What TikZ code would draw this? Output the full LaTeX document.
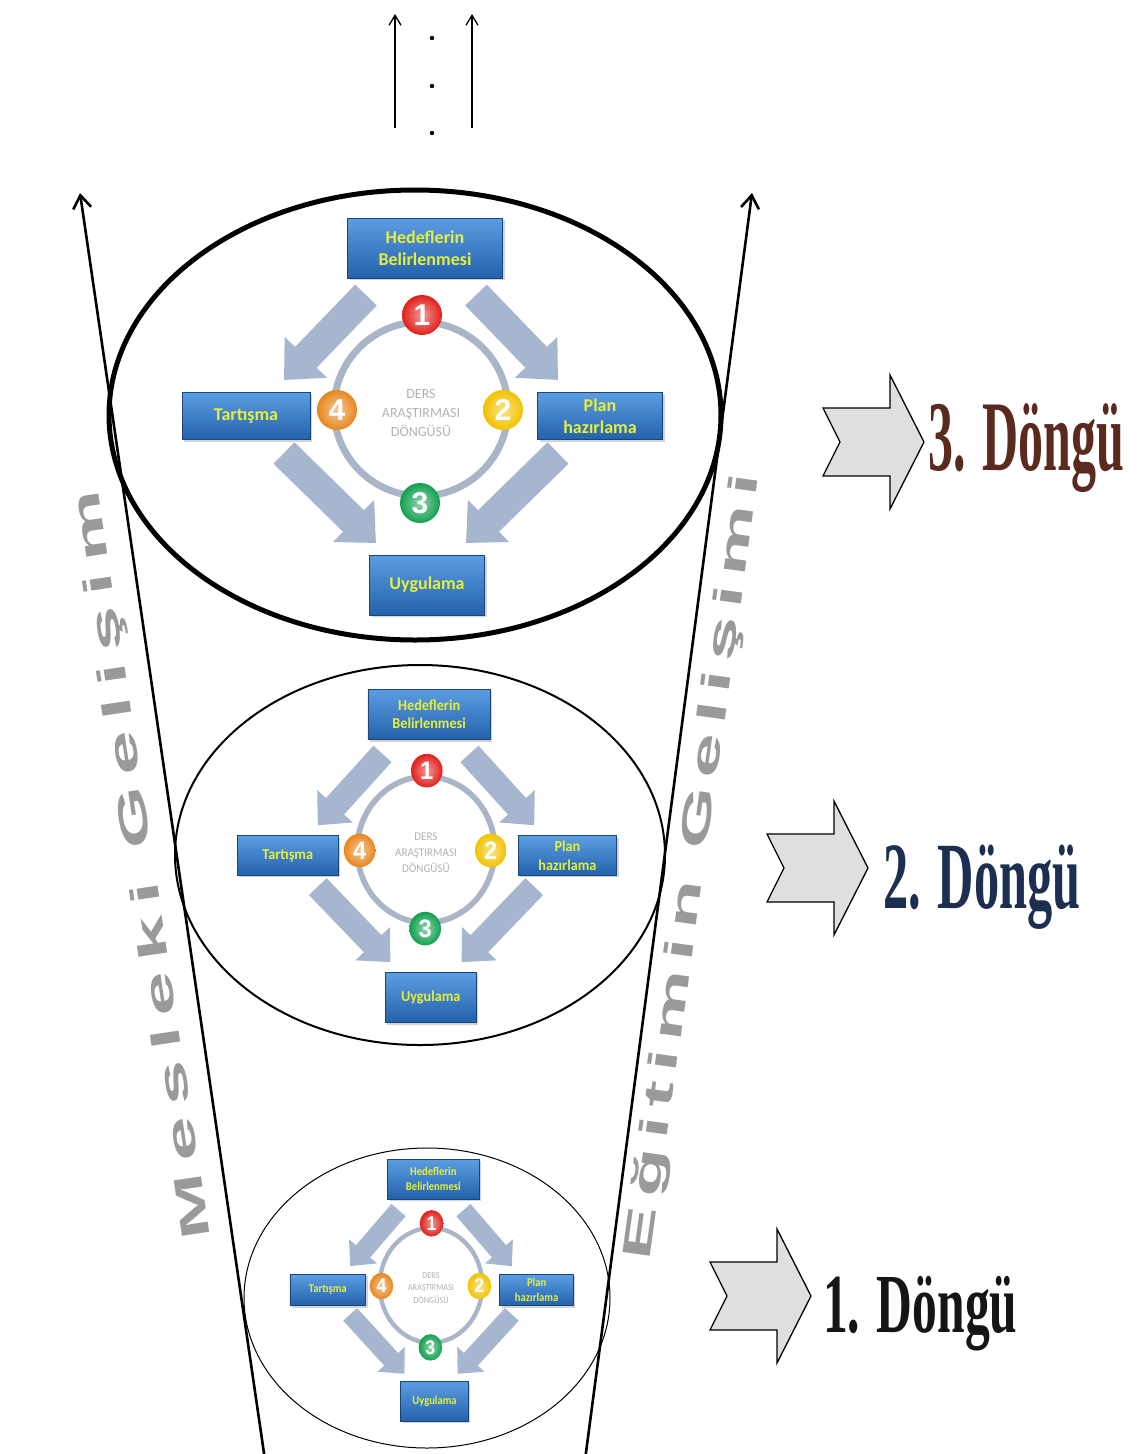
\documentclass[tikz,border=0pt]{standalone}
\usepackage{fontspec}
\usepackage{tikz}
\usetikzlibrary{positioning,arrows.meta,shadows}
\usepackage{xcolor}

\setmainfont{Liberation Serif}
\newfontfamily\boxfont{Carlito}
\newfontfamily\numfont{Liberation Sans}
\newfontfamily\sideLeft[LetterSpace=15]{Liberation Sans}
\newfontfamily\sideRight[LetterSpace=12]{Liberation Sans}

\definecolor{boxTop}{HTML}{5B9DE2}
\definecolor{boxBot}{HTML}{2462AC}
\definecolor{boxText}{HTML}{E6F03A}
\definecolor{ringGray}{HTML}{AAB6C8}
\definecolor{arrowBlue}{HTML}{A6B6CF}
\definecolor{ball1}{HTML}{E0201A}
\definecolor{ball2}{HTML}{F2C200}
\definecolor{ball3}{HTML}{12A050}
\definecolor{ball4}{HTML}{E8861E}
\definecolor{dongu3}{HTML}{5A2A1F}
\definecolor{dongu2}{HTML}{1D2F50}
\definecolor{dongu1}{HTML}{151515}
\definecolor{sideGray}{HTML}{9A9A9A}

\tikzset{
  dersBox/.style={rectangle, draw=boxBot!70!black, line width=0.6pt,
    top color=boxTop, bottom color=boxBot, text=boxText, align=center,
    font=\boxfont\bfseries\fontsize{18}{22}\selectfont, inner sep=2pt,
    drop shadow={opacity=0.35, shadow xshift=2pt, shadow yshift=-2pt}},
  dersBall/.style={circle, minimum size=40pt, inner sep=0pt, text=white,
    shading=radial, inner color=#1!45!white, outer color=#1,
    font=\numfont\bfseries\fontsize{30}{30}\selectfont},
  centerText/.style={align=center, text=gray!60, inner sep=0pt,
    font=\boxfont\fontsize{14}{19}\selectfont},
  blockArrow/.style={draw=arrowBlue, line cap=butt,
    -{Triangle[width=0pt 1.9, length=0pt 1.05]}},
  ringLine/.style={draw=ringGray},
  funnel/.style={line width=2.6pt, -{Straight Barb[length=13pt, width=18pt]}},
  smallUp/.style={line width=1.3pt, -{Straight Barb[length=10pt, width=12pt]}},
  donguArrow/.style={draw=black, line width=1.3pt, fill=gray!25, line join=miter},
  donguLabel/.style={anchor=base west, inner sep=0pt},
  sideText/.style={text=sideGray, inner sep=0pt}
}

% one lesson study cycle: prefix, centre x, centre y, xscale, yscale
\newcommand{\dersDongusu}[5]{%
  \pgfmathsetmacro\cycW{(#4+#5)/2}
  \begin{scope}[shift={(#2,#3)}, xscale=#4, yscale=#5, transform shape]
    % block arrows
    \coordinate (#1ulA) at (-55,-118); \coordinate (#1ulB) at (-137,-33);
    \coordinate (#1urA) at (55,-118);  \coordinate (#1urB) at (137,-33);
    \coordinate (#1llA) at (-137,40);  \coordinate (#1llB) at (-45,130);
    \coordinate (#1lrA) at (137,40);   \coordinate (#1lrB) at (45,130);
    \foreach \pos in {ul,ur,ll,lr}
      \draw[blockArrow, line width=\cycW*30pt] (#1\pos A) -- (#1\pos B);
    % ring
    \draw[ringLine, line width=\cycW*7pt] (0,-4) circle [radius=87pt];
    % steps
    \node[dersBox, minimum width=155pt, minimum height=60pt] (#1hedef) at (4,-165) {Hedeflerin\\Belirlenmesi};
    \node[dersBox, minimum width=128pt, minimum height=47pt] (#1tart) at (-175,3) {Tartışma};
    \node[dersBox, minimum width=125pt, minimum height=47pt] (#1plan) at (179,3) {Plan\\hazırlama};
    \node[dersBox, minimum width=115pt, minimum height=60pt] (#1uyg) at (6,172) {Uygulama};
    % numbers
    \node[dersBall=ball1] (#1n1) at (1,-98) {1};
    \node[dersBall=ball2] (#1n2) at (82,-3) {2};
    \node[dersBall=ball3] (#1n3) at (-1,90) {3};
    \node[dersBall=ball4] (#1n4) at (-84,-3) {4};
    \node[centerText] (#1baslik) at (0,0) {DERS\\ARAŞTIRMASI\\DÖNGÜSÜ};
  \end{scope}
}

\begin{document}
\begin{tikzpicture}[x=1pt, y=-1pt]
    \useasboundingbox (0,0) rectangle (1136,1454);

    % ellipses of the three cycles
    \draw[line width=5pt] (415,415) ellipse [x radius=306pt, y radius=225pt];
    \draw[line width=2pt] (420,855) ellipse [x radius=245pt, y radius=190pt];
    \draw[line width=1pt] (427,1298) ellipse [x radius=183pt, y radius=150pt];

    % funnel
    \coordinate (lBot) at (265,1460);
    \coordinate (lTop) at (80,193);
    \coordinate (rBot) at (585,1460);
    \coordinate (rTop) at (752,193);
    \draw[funnel] (lBot) -- (lTop);
    \draw[funnel] (rBot) -- (rTop);

    % continuing upwards
    \coordinate (upL0) at (395,128); \coordinate (upL1) at (395,14);
    \coordinate (upR0) at (472,128); \coordinate (upR1) at (472,14);
    \draw[smallUp] (upL0) -- (upL1);
    \draw[smallUp] (upR0) -- (upR1);
    \foreach \i/\y in {1/38, 2/86, 3/133}
      \fill (432,\y) circle [radius=2.2pt] coordinate (dot\i);

    % cycles
    \dersDongusu{t}{421}{413}{1}{1}
    \dersDongusu{m}{426}{853}{0.79}{0.84}
    \dersDongusu{b}{431}{1288}{0.59}{0.66}

    % side texts
    \node[sideText, rotate=98.5, font=\sideLeft\bfseries\fontsize{40}{40}\selectfont] (meslek) at (144,865) {\scalebox{2.0}[1]{Mesleki Gelişim}};
    \node[sideText, rotate=82.1, font=\sideRight\bfseries\fontsize{40}{40}\selectfont] (egitim) at (694,867) {\scalebox{2.0}[1]{Eğitimin Gelişimi}};

    % cycle labels
    \foreach \n/\ax/\ay in {3/823/442, 2/767/868, 1/710/1296} {
      \draw[donguArrow] (\ax,\ay) ++(0,-34) -- ++(67,0) -- ++(0,-33) -- ++(34,67)
        -- ++(-34,67) -- ++(0,-33) -- ++(-67,0) -- ++(17,-34) -- cycle;
      \coordinate (tip\n) at ({\ax+101},\ay);
    }
    \node[donguLabel, text=dongu3, font=\bfseries\fontsize{100}{100}\selectfont] (lbl3) at (928,470) {\scalebox{0.5}[1]{3. Döngü}};
    \node[donguLabel, text=dongu2, font=\bfseries\fontsize{95}{95}\selectfont] (lbl2) at (883,908) {\scalebox{0.53}[1]{2. Döngü}};
    \node[donguLabel, text=dongu1, font=\bfseries\fontsize{84}{84}\selectfont] (lbl1) at (823,1332) {\scalebox{0.59}[1]{1. Döngü}};
\end{tikzpicture}
\end{document}
